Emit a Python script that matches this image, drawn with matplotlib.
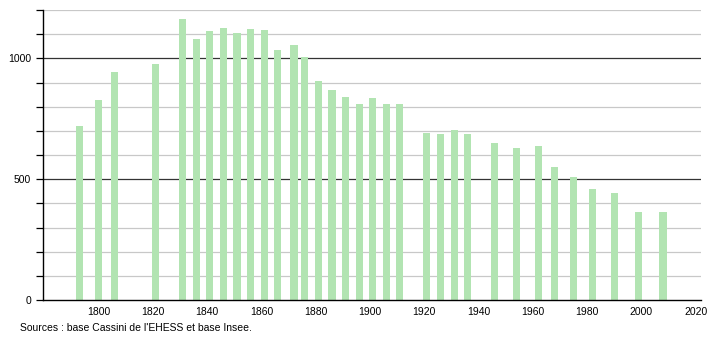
import matplotlib
matplotlib.use("Agg")
import matplotlib.pyplot as plt

plt.rcParams['font.family'] = ['Liberation Sans', 'DejaVu Sans']

years = [1793, 1800, 1806, 1821, 1831, 1836, 1841, 1846, 1851, 1856, 1861, 1866,
         1872, 1876, 1881, 1886, 1891, 1896, 1901, 1906, 1911, 1921, 1926, 1931,
         1936, 1946, 1954, 1962, 1968, 1975, 1982, 1990, 1999, 2008]
population = [722, 826, 942, 975, 1162, 1079, 1112, 1124, 1105, 1120, 1116, 1033,
              1054, 1004, 905, 871, 838, 809, 834, 809, 809, 689, 685, 705,
              685, 650, 627, 639, 550, 510, 459, 444, 365, 365]
xticks = list(range(1800, 2021, 20))
yticks = [0, 500, 1000]
source = "Sources : base Cassini de l'EHESS et base Insee."

fig = plt.figure(figsize=(7.1, 3.4), dpi=100)
ax = fig.add_axes([43/710, 40/340, (701-43)/710, 290/340])

for g in range(100, 1201, 100):
    if g % 500 == 0:
        ax.axhline(g, color='#333333', lw=0.9, zorder=1)
    else:
        ax.axhline(g, color='#c8c8c8', lw=0.9, zorder=1)

ax.bar(years, population, width=2.6, color='#b2e4b2', zorder=2)

ax.set_xlim(1779.5, 2022)
ax.set_ylim(0, 1200)
ax.set_xticks(xticks)
ax.set_yticks(yticks)
ax.set_yticks(range(100, 1201, 100), minor=True)
ax.tick_params(axis='x', length=0, labelsize=7.5, pad=5)
ax.tick_params(axis='y', which='major', length=5, labelsize=7.5, width=0.9)
ax.tick_params(axis='y', which='minor', length=5, width=0.9)
for s in ['top', 'right']:
    ax.spines[s].set_visible(False)
ax.spines['left'].set_linewidth(1.0)
ax.spines['bottom'].set_linewidth(1.0)

fig.text(20/710, 1 - 328/340, source, fontsize=7.5, va='center', ha='left')

fig.savefig("out.png", dpi=100)
